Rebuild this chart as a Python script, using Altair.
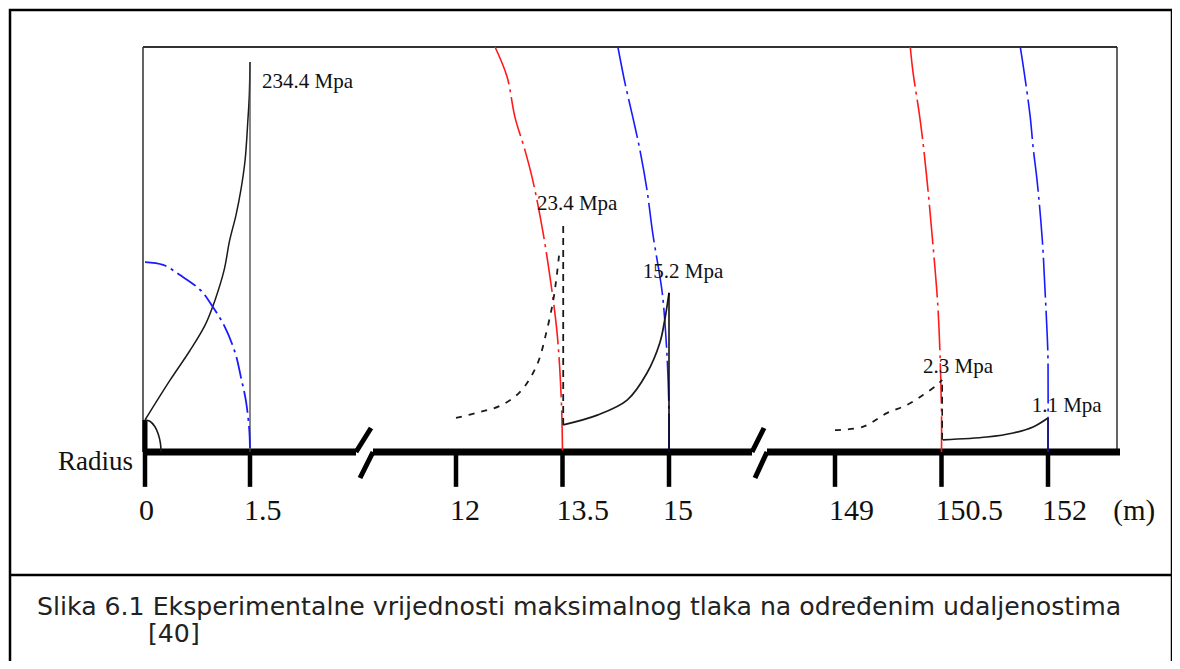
import altair as alt
import pandas as pd

# ---------------- data ----------------
# x in metres (broken axis), h = relative level above the radius axis (0..100 = box top)
tick_values = [0, 1.5, 12, 13.5, 15, 149, 150.5, 152]
tick_labels = ["0", "1.5", "12", "13.5", "15", "149", "150.5", "152"]

label_text = ["234.4 Mpa", "23.4 Mpa", "15.2 Mpa", "2.3 Mpa", "1.1 Mpa"]
label_r = [2.11, 13.14, 14.63, 150.24, 151.77]
label_h = [89.9, 59.8, 43.0, 19.5, 9.9]

s1_solid_r = [0, 0.36, 0.64, 0.86, 1.0, 1.13, 1.21, 1.30, 1.37, 1.43, 1.47, 1.49, 1.5]
s1_solid_h = [7.9, 17.8, 25.0, 31.4, 37.5, 44.9, 52.3, 58.5, 64.7, 72.1, 82.0, 88.1, 96.3]
s1_peak_r = [1.5, 1.5]
s1_peak_h = [0, 96.3]
s1_blue_r = [0, 0.26, 0.50, 0.79, 0.97, 1.14, 1.29, 1.37, 1.44, 1.49, 1.5]
s1_blue_h = [46.9, 46.2, 43.7, 40.0, 35.8, 30.9, 24.4, 18.5, 12.8, 5.4, 0]
origin_arc_r = [0, 0.07, 0.14, 0.19, 0.22, 0.23]
origin_arc_h = [7.9, 7.6, 6.3, 4.4, 2.2, 0]

s2_red_r = [12.55, 12.72, 12.83, 12.97, 13.08, 13.22, 13.35, 13.42, 13.46, 13.49, 13.5]
s2_red_h = [100, 92.6, 82.7, 74.6, 67.2, 54.8, 40.0, 30.1, 21.0, 9.6, 0]
s2_blue_r = [14.28, 14.38, 14.49, 14.59, 14.69, 14.77, 14.90, 14.94, 14.98, 15.0, 15.0]
s2_blue_h = [100, 91.1, 82.7, 74.6, 64.7, 54.1, 40.0, 32.6, 21.0, 9.6, 0]
s2_dash_r = [12.0, 12.34, 12.62, 12.90, 13.14, 13.28, 13.37, 13.42, 13.46]
s2_dash_h = [8.4, 9.9, 11.4, 14.8, 21.5, 30.1, 37.5, 43.7, 50.0]
s2_dashv_r = [13.51, 13.51]
s2_dashv_h = [6.7, 56.0]
s2_solid_r = [13.51, 13.99, 14.41, 14.69, 14.87, 14.94, 15.0]
s2_solid_h = [6.7, 9.1, 12.8, 19.5, 26.9, 32.6, 39.3]
s2_peak_r = [15.0, 15.0]
s2_peak_h = [0, 39.3]

s3_red_r = [150.06, 150.10, 150.18, 150.23, 150.30, 150.37, 150.44, 150.47, 150.5, 150.5]
s3_red_h = [100, 93.6, 84.4, 77.8, 66.4, 53.1, 38.3, 28.4, 9.6, 0]
s3_blue_r = [151.61, 151.66, 151.75, 151.79, 151.85, 151.92, 151.96, 151.99, 152.0, 152.0]
s3_blue_h = [100, 94.3, 82.7, 75.3, 66.4, 52.3, 39.3, 28.4, 22.7, 0]
s3_dash_r = [149.0, 149.39, 149.73, 150.01, 150.24, 150.44, 150.51]
s3_dash_h = [5.4, 6.2, 9.6, 11.6, 14.1, 16.6, 17.8]
s3_dashv_r = [150.51, 150.51]
s3_dashv_h = [3.0, 17.8]
s3_solid_r = [150.52, 151.14, 151.51, 151.79, 152.0]
s3_solid_h = [3.0, 3.7, 4.7, 6.2, 8.4]
s3_peak_r = [152.0, 152.0]
s3_peak_h = [0, 8.4]

caption_1 = "Slika 6.1 Eksperimentalne vrijednosti maksimalnog tlaka na određenim udaljenostima"
caption_2 = "[40]"

# ---------------- styles ----------------
RED = "#ff1a1a"
BLUE = "#1a1aff"
DASHDOT = [40, 5, 3, 5]
DASHED = [6, 7]
series = [
    (s1_solid_r, s1_solid_h, "#1a1a1a", None, 1.5, "catmull-rom"),
    (s1_peak_r, s1_peak_h, "#444444", None, 1.3, "linear"),
    (s1_blue_r, s1_blue_h, BLUE, [22, 5, 3, 5], 1.8, "catmull-rom"),
    (origin_arc_r, origin_arc_h, "#1a1a1a", None, 1.6, "catmull-rom"),
    (s2_red_r, s2_red_h, RED, DASHDOT, 1.6, "catmull-rom"),
    (s2_blue_r, s2_blue_h, BLUE, DASHDOT, 1.6, "catmull-rom"),
    (s2_dash_r, s2_dash_h, "#1a1a1a", DASHED, 1.8, "catmull-rom"),
    (s2_dashv_r, s2_dashv_h, "#1a1a1a", [7, 5], 1.8, "linear"),
    (s2_solid_r, s2_solid_h, "#1a1a1a", None, 1.7, "catmull-rom"),
    (s2_peak_r, s2_peak_h, "#000000", None, 1.5, "linear"),
    (s3_red_r, s3_red_h, RED, DASHDOT, 1.6, "catmull-rom"),
    (s3_blue_r, s3_blue_h, BLUE, DASHDOT, 1.6, "catmull-rom"),
    (s3_dash_r, s3_dash_h, "#1a1a1a", DASHED, 1.8, "catmull-rom"),
    (s3_dashv_r, s3_dashv_h, "#1a1a1a", [7, 5], 1.6, "linear"),
    (s3_solid_r, s3_solid_h, "#1a1a1a", None, 1.7, "catmull-rom"),
    (s3_peak_r, s3_peak_h, "#101060", None, 1.5, "linear"),
]

W, H = 1164, 653
xscale = alt.Scale(domain=[-1.957, 0, 1.5, 12, 15, 149, 152, 153.746],
                   range=[0, 137, 242, 448, 661, 827, 1040, 1164],
                   zero=False, nice=False)
yscale = alt.Scale(domain=[-51.6, 109.63], zero=False, nice=False)

X = lambda f: alt.X(f, type="quantitative", scale=xscale, axis=None)
Y = lambda f: alt.Y(f, type="quantitative", scale=yscale, axis=None)

layers = []

# outer frame and caption separator (decoration, pixel placed)
frame = pd.DataFrame({"k": [0]})
layers.append(alt.Chart(frame).mark_rect(fill=None, stroke="#000", strokeWidth=2.5).encode(
    x=alt.value(2), x2=alt.value(1164), y=alt.value(2), y2=alt.value(700)))
layers.append(alt.Chart(frame).mark_rule(color="#000", strokeWidth=2.5).encode(
    x=alt.value(2), x2=alt.value(1164), y=alt.value(567)))
# inner box
layers.append(alt.Chart(frame).mark_rule(color="#222", strokeWidth=1.4).encode(
    x=alt.value(135), y=alt.value(39), y2=alt.value(444)))
layers.append(alt.Chart(frame).mark_rule(color="#333", strokeWidth=2).encode(
    x=alt.value(135), x2=alt.value(1109), y=alt.value(39)))
layers.append(alt.Chart(frame).mark_rule(color="#222", strokeWidth=1.4).encode(
    x=alt.value(1109), y=alt.value(39), y2=alt.value(444)))

# thick radius axis with two breaks
axis_segments = [(135, 348), (365, 744), (759, 1112)]
for a, b in axis_segments:
    layers.append(alt.Chart(frame).mark_rule(color="#000", strokeWidth=7).encode(
        x=alt.value(a), x2=alt.value(b), y=alt.value(444)))
slashes = [(348, 444, 363, 420), (365, 444, 352, 470), (744, 444, 756, 420), (759, 444, 747, 470)]
for x1, y1, x2, y2 in slashes:
    layers.append(alt.Chart(frame).mark_rule(color="#000", strokeWidth=5).encode(
        x=alt.value(x1), y=alt.value(y1), x2=alt.value(x2), y2=alt.value(y2)))

# ticks
ticks = pd.DataFrame({"r": tick_values, "lab": tick_labels, "h0": [0] * 8, "h1": [-8.6] * 8})
layers.append(alt.Chart(ticks).mark_rule(color="#000", strokeWidth=4.5).encode(
    x=X("r"), y=Y("h0"), y2="h1"))
origin_tick = pd.DataFrame({"r": [0], "a": [7.9], "b": [0]})
layers.append(alt.Chart(origin_tick).mark_rule(color="#000", strokeWidth=5).encode(
    x=X("r"), y=Y("a"), y2="b"))

# curves
for i, (rs, hs, col, dash, sw, interp) in enumerate(series):
    df = pd.DataFrame({"r": rs, "h": hs, "o": list(range(len(rs)))})
    kw = dict(color=col, strokeWidth=sw, interpolate=interp)
    if dash:
        kw["strokeDash"] = dash
    layers.append(alt.Chart(df).mark_line(**kw).encode(
        x=X("r"), y=Y("h"), order=alt.Order("o:Q")))

# tick labels
tl = ticks.assign(hl=-16.8)
layers.append(alt.Chart(tl).mark_text(font="Liberation Serif", fontSize=30, align="left",
                                      baseline="alphabetic", dx=-6, color="#111").encode(
    x=X("r"), y=Y("hl"), text="lab:N"))
unit = pd.DataFrame({"r": [152.92], "h": [-16.8], "t": ["(m)"]})
layers.append(alt.Chart(unit).mark_text(font="Liberation Serif", fontSize=29, align="left",
                                        baseline="alphabetic", color="#111").encode(
    x=X("r"), y=Y("h"), text="t:N"))
radius = pd.DataFrame({"r": [0], "h": [-4.4], "t": ["Radius"]})
layers.append(alt.Chart(radius).mark_text(font="Liberation Serif", fontSize=27, align="right",
                                          baseline="alphabetic", dx=-12, color="#111").encode(
    x=X("r"), y=Y("h"), text="t:N"))

# pressure labels
pl = pd.DataFrame({"r": label_r, "h": label_h, "t": label_text})
layers.append(alt.Chart(pl).mark_text(font="Liberation Serif", fontSize=21, align="left",
                                      baseline="alphabetic", color="#111").encode(
    x=X("r"), y=Y("h"), text="t:N"))

# caption
cap = pd.DataFrame({"t": [caption_1, caption_2], "x": [29, 140], "y": [607, 634]})
layers.append(alt.Chart(cap).mark_text(font="DejaVu Sans", fontSize=25.2, align="left",
                                       baseline="alphabetic", color="#222").encode(
    x=alt.X("x:Q", scale=alt.Scale(domain=[0, W], range=[0, W]), axis=None),
    y=alt.Y("y:Q", scale=alt.Scale(domain=[0, H], range=[0, H]), axis=None),
    text="t:N"))

chart = alt.layer(*layers).resolve_scale(x="independent", y="independent").properties(
    width=W, height=H, autosize=alt.AutoSizeParams(type="none"), padding=0
).configure_view(stroke=None)

chart.save("out.html", embed_options={"renderer": "svg", "actions": False})
